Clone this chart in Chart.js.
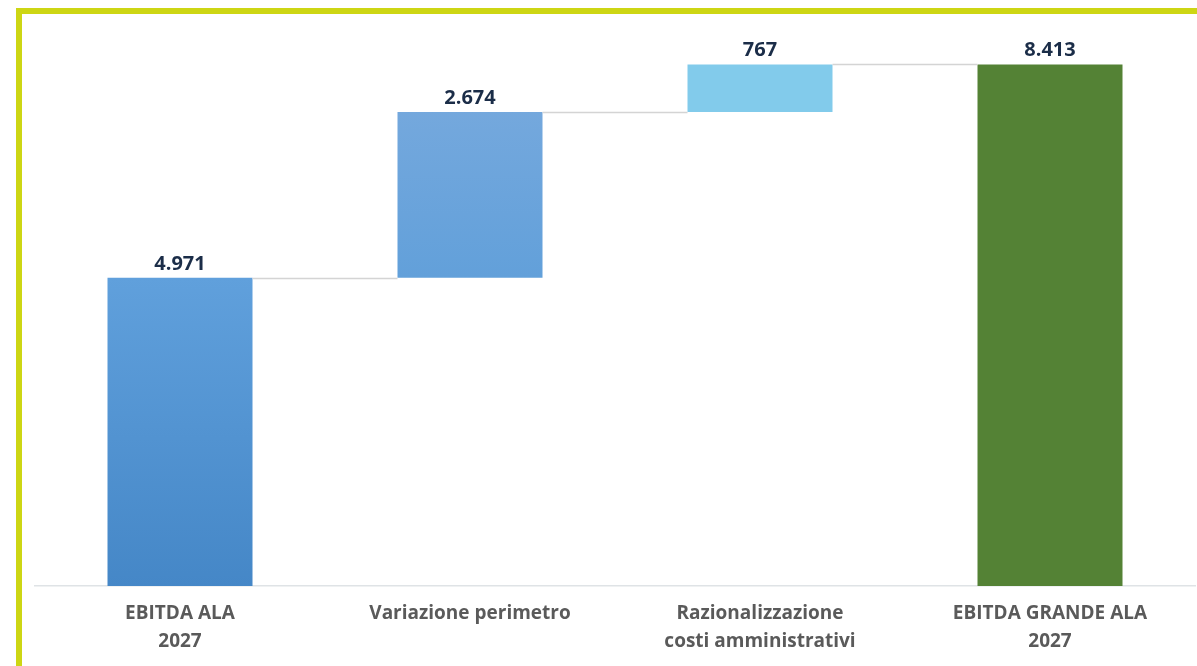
<!DOCTYPE html>
<html>
<head>
<meta charset="utf-8">
<script src="https://cdn.jsdelivr.net/npm/chart.js@4"></script>
<style>
    html, body { margin: 0; padding: 0; background: #fff; }
    #frame {
        position: absolute;
        left: 16px; top: 8px;
        width: 1181px; height: 658px;
        border-left: 6px solid #cdd614;
        border-top: 6px solid #cdd614;
    }
    #wrap { position: absolute; left: 0; top: 0; width: 1197px; height: 666px; }
</style>
</head>
<body>
<div id="frame"></div>
<div id="wrap"><canvas id="chart" width="1197" height="666"></canvas></div>
<script>
var categories = [
    ["EBITDA ALA", "2027"],
    "Variazione perimetro",
    ["Razionalizzazione", "costi amministrativi"],
    ["EBITDA GRANDE ALA", "2027"]
];
var deltas = [4971, 2674, 767, 8413];
var isTotal = [true, false, false, true];
var labels = ["4.971", "2.674", "767", "8.413"];

// build floating ranges from the deltas
var ranges = [];
var running = 0;
for (var i = 0; i < deltas.length; i++) {
    if (isTotal[i]) {
        ranges.push([0, deltas[i]]);
        running = deltas[i];
    } else {
        ranges.push([running, running + deltas[i]]);
        running += deltas[i];
    }
}

var barColors = [
    ["#60a0dc", "#4587c7"],
    ["#74a8dd", "#62a0da"],
    ["#82cbeb", "#82cbeb"],
    ["#548235", "#548235"]
];

function barFill(context) {
    var chart = context.chart;
    var area = chart.chartArea;
    var c = barColors[context.dataIndex];
    if (!area) return c[0];
    var y = chart.scales.y;
    var top = y.getPixelForValue(ranges[context.dataIndex][1]);
    var bottom = y.getPixelForValue(ranges[context.dataIndex][0]);
    var g = chart.ctx.createLinearGradient(0, top, 0, bottom);
    g.addColorStop(0, c[0]);
    g.addColorStop(1, c[1]);
    return g;
}

var connectors = {
    id: 'connectors',
    afterDatasetsDraw: function (chart) {
        var ctx = chart.ctx;
        var bars = chart.getDatasetMeta(0).data;
        var y = chart.scales.y;
        ctx.save();
        ctx.strokeStyle = "#d4d4d4";
        ctx.lineWidth = 1.5;
        for (var i = 0; i < bars.length - 1; i++) {
            var level = ranges[i][1];
            var py = Math.round(y.getPixelForValue(level)) + 0.5;
            ctx.beginPath();
            ctx.moveTo(bars[i].x + bars[i].width / 2, py);
            ctx.lineTo(bars[i + 1].x - bars[i + 1].width / 2, py);
            ctx.stroke();
        }
        // value labels
        ctx.fillStyle = "#1b2d48";
        ctx.font = "bold 20px 'Open Sans', sans-serif";
        ctx.textAlign = "center";
        ctx.textBaseline = "bottom";
        for (var j = 0; j < bars.length; j++) {
            var ty = y.getPixelForValue(ranges[j][1]);
            ctx.fillText(labels[j], bars[j].x, ty - 4);
        }
        ctx.restore();
    }
};

new Chart(document.getElementById("chart"), {
    type: 'bar',
    data: {
        labels: categories,
        datasets: [{
            data: ranges,
            backgroundColor: barFill,
            borderWidth: 0,
            categoryPercentage: 1.0,
            barPercentage: 0.5
        }]
    },
    options: {
        responsive: false,
        animation: false,
        layout: { padding: { left: 35, right: 2, top: 28, bottom: 0 } },
        plugins: {
            legend: { display: false },
            tooltip: { enabled: false }
        },
        scales: {
            y: {
                display: false,
                min: 0,
                max: 9000
            },
            x: {
                grid: { display: false },
                border: { display: true, color: "#dfe3e6", width: 1.5 },
                ticks: {
                    color: "#5a5a5a",
                    padding: 6,
                    maxRotation: 0,
                    autoSkip: false,
                    font: { family: "'Open Sans', sans-serif", size: 19, weight: 'bold', lineHeight: 1.47 }
                },
                afterFit: function (scale) { scale.height = 80; }
            }
        }
    },
    plugins: [connectors]
});
</script>
</body>
</html>
